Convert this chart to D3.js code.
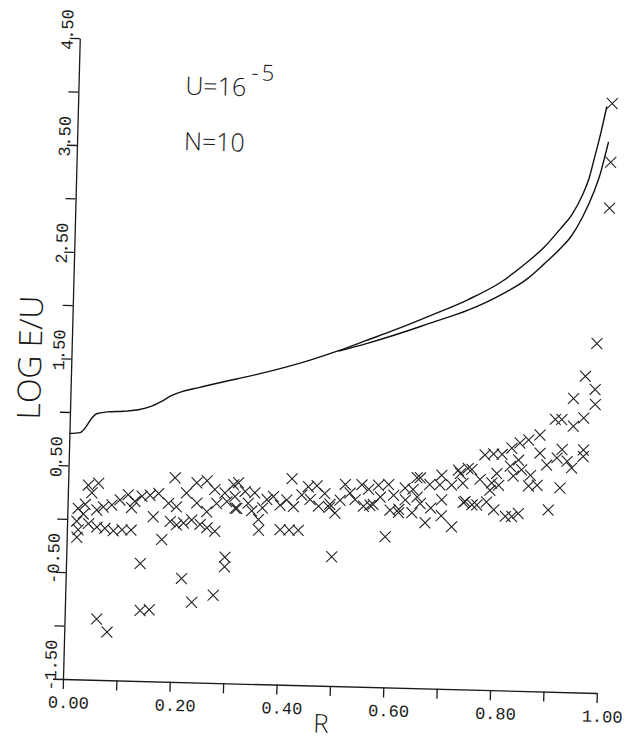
<!DOCTYPE html>
<html>
<head>
<meta charset="utf-8">
<script src="https://cdn.jsdelivr.net/npm/d3@7"></script>
<style>
  body { margin: 0; background: #fff; }
  .axis path, .axis line { stroke: #1a1a1a; stroke-width: 1.3; }
  .tick-label { font-family: "Liberation Mono", monospace; font-size: 17px; fill: #1a1a1a; }
  .title { font-family: "Open Sans", "Liberation Sans", sans-serif; font-weight: 300; fill: #1a1a1a; }
</style>
</head>
<body>
<script>
// Values.
let curveR =   [0, 0.02, 0.03, 0.04, 0.05, 0.07, 0.10, 0.13, 0.15, 0.17, 0.19, 0.21, 0.24, 0.27, 0.31, 0.35, 0.40, 0.45, 0.50, 0.55, 0.61, 0.67, 0.74, 0.80, 0.85, 0.88, 0.91, 0.93, 0.95, 0.96, 0.97, 0.98, 0.99];
let upperLog = [0.80, 0.81, 0.86, 0.94, 0.99, 1.01, 1.02, 1.04, 1.07, 1.12, 1.18, 1.22, 1.26, 1.30, 1.35, 1.40, 1.47, 1.55, 1.64, 1.74, 1.86, 1.99, 2.15, 2.32, 2.52, 2.66, 2.84, 2.97, 3.17, 3.31, 3.52, 3.74, 3.99];

let lowerR =   [0.50, 0.55, 0.61, 0.67, 0.74, 0.80, 0.85, 0.88, 0.91, 0.93, 0.95, 0.97, 0.98, 0.99, 0.995];
let lowerLog = [1.635, 1.71, 1.81, 1.92, 2.05, 2.20, 2.36, 2.50, 2.65, 2.77, 2.95, 3.19, 3.34, 3.55, 3.66];

let crossR = [
    0.038, 0.057, 0.045, 0.020, 0.055, 0.067, 0.083, 0.098, 0.113, 0.126, 0.139, 0.154, 0.170, 0.120, 0.161, 0.189, 0.200, 0.204, 0.222, 0.241,
    0.260, 0.275, 0.294, 0.310, 0.242, 0.261, 0.279, 0.298, 0.314, 0.030, 0.040, 0.033,
    0.018, 0.021, 0.019, 0.056, 0.071, 0.087, 0.103, 0.120, 0.193, 0.205, 0.218, 0.233, 0.249, 0.262, 0.277,
    0.178, 0.139, 0.297, 0.297, 0.217, 0.277, 0.237, 0.141, 0.158, 0.060, 0.080,
    0.319, 0.419, 0.313, 0.332, 0.350, 0.338, 0.317, 0.373, 0.385, 0.398, 0.410, 0.423, 0.438, 0.450, 0.454, 0.466, 0.481, 0.491, 0.501, 0.510,
    0.519, 0.528, 0.538, 0.550, 0.563, 0.554, 0.572, 0.581, 0.600, 0.604, 0.620, 0.631, 0.632, 0.645, 0.654, 0.653, 0.358, 0.359, 0.399, 0.416,
    0.433, 0.596, 0.497, 0.345, 0.365, 0.470, 0.585, 0.610, 0.490, 0.566, 0.620, 0.680, 0.700, 0.670,
    0.963, 0.982, 0.942, 0.983, 0.909, 0.921, 0.962, 0.943, 0.881, 0.860, 0.844, 0.779, 0.795, 0.811, 0.829, 0.882, 0.923, 0.963, 0.963, 0.914,
    0.895, 0.933, 0.942, 0.842, 0.848, 0.865, 0.878, 0.862, 0.827, 0.833, 0.802, 0.793, 0.806, 0.771, 0.755, 0.734, 0.739, 0.744, 0.757, 0.784,
    0.790, 0.798, 0.820, 0.832, 0.844, 0.900, 0.921, 0.720, 0.659, 0.677, 0.699, 0.696, 0.660, 0.700, 0.646, 0.718, 0.730, 0.748, 0.741, 0.766,
    0.983, 1.00, 1.00, 1.00
];
let crossLog = [
    0.32, 0.34, 0.25, 0.10, 0.09, 0.12, 0.14, 0.19, 0.24, 0.18, 0.23, 0.24, 0.26, 0.12, 0.04, 0.17, 0.41, 0.14, 0.27, 0.37,
    0.39, 0.31, 0.28, 0.36, 0.18, 0.10, 0.18, 0.20, 0.14, 0.05, -0.04, 0.14,
    -0.02, -0.10, -0.17, -0.07, -0.08, -0.10, -0.09, -0.09, 0.00, -0.03, -0.01, 0.02, -0.02, -0.05, -0.08,
    -0.17, -0.40, -0.32, -0.41, -0.53, -0.68, -0.75, -0.84, -0.83, -0.93, -1.05,
    0.38, 0.43, 0.25, 0.30, 0.29, 0.19, 0.14, 0.23, 0.26, 0.18, 0.23, 0.17, 0.28, 0.36, 0.24, 0.37, 0.30, 0.20, 0.12, 0.24,
    0.39, 0.31, 0.25, 0.39, 0.35, 0.19, 0.21, 0.39, 0.40, 0.16, 0.17, 0.37, 0.26, 0.14, 0.29, 0.47, 0.04, -0.06, -0.05, -0.05,
    -0.05, -0.09, -0.29, 0.12, 0.15, 0.18, 0.28, 0.30, 0.17, 0.20, 0.14, 0.19, 0.12, 0.05,
    1.46, 1.34, 1.25, 1.20, 1.05, 1.05, 1.07, 0.99, 0.90, 0.85, 0.82, 0.70, 0.71, 0.71, 0.77, 0.73, 0.77, 0.77, 0.71, 0.69,
    0.62, 0.66, 0.60, 0.66, 0.57, 0.52, 0.43, 0.42, 0.60, 0.51, 0.53, 0.44, 0.42, 0.47, 0.56, 0.52, 0.43, 0.26, 0.23, 0.26,
    0.37, 0.19, 0.13, 0.13, 0.16, 0.20, 0.41, 0.02, 0.47, 0.41, 0.50, 0.41, 0.23, 0.27, 0.36, 0.41, 0.55, 0.57, 0.25, 0.23,
    1.77, 4.02, 3.47, 3.04
];

let xTickValues = [0, 0.1, 0.2, 0.3, 0.4, 0.5, 0.6, 0.7, 0.8, 0.9, 1.0];
let xTickLabels = ["0.00", "0.20", "0.40", "0.60", "0.80", "1.00"];
let yTickValues = [-1.5, -1.0, -0.5, 0, 0.5, 1.0, 1.5, 2.0, 2.5, 3.0, 3.5, 4.0, 4.5];
let yTickLabels = ["-1.50", "-0.50", "0.50", "1.50", "2.50", "3.50", "4.50"];

let width = 628;
let height = 743;
let origin = {x: 63, y: 679};
let plotWidth = 534;
let plotHeight = 641;
// The scan is turned a little clockwise.
let tilt = 1.5;

let svg = d3.select("body").append("svg")
    .attr("width", width)
    .attr("height", height);

svg.append("rect")
    .attr("width", width)
    .attr("height", height)
    .attr("fill", "#fff");

let view = svg.append("g")
    .attr("transform", `translate(${origin.x},${origin.y}) rotate(${tilt})`);

let xScale = d3.scaleLinear().domain([0, 1]).range([0, plotWidth]);
let yScale = d3.scaleLinear().domain([-1.5, 4.5]).range([0, -plotHeight]);

view.append("g")
    .classed("axis", true)
    .call(d3.axisBottom(xScale).tickValues(xTickValues).tickSize(10).tickSizeOuter(0).tickFormat(""));

view.append("g")
    .classed("axis", true)
    .call(d3.axisLeft(yScale).tickValues(yTickValues).tickSize(10).tickSizeOuter(0).tickFormat(""));

view.selectAll("text.x-label")
    .data(xTickLabels)
    .join("text")
    .classed("tick-label x-label", true)
    .attr("x", d => xScale(+d) + 6)
    .attr("y", 29)
    .attr("text-anchor", "middle")
    .text(d => d);

view.selectAll("text.y-label")
    .data(yTickLabels)
    .join("text")
    .classed("tick-label y-label", true)
    .attr("transform", d => `translate(-7,${yScale(+d) + 12}) rotate(-90)`)
    .attr("text-anchor", "start")
    .text(d => d);

view.append("text")
    .classed("title", true)
    .attr("x", xScale(0.485))
    .attr("y", 47)
    .attr("text-anchor", "middle")
    .attr("font-size", 26)
    .text("R");

view.append("text")
    .classed("title", true)
    .attr("transform", `translate(-30,${yScale(1.5)}) rotate(-90)`)
    .attr("text-anchor", "middle")
    .attr("font-size", 32)
    .text("LOG E/U");

let note = view.append("text")
    .classed("title", true)
    .attr("x", xScale(0.2))
    .attr("y", yScale(4.0))
    .attr("font-size", 25)
    .text("U=16");
note.append("tspan")
    .attr("font-size", 22)
    .attr("letter-spacing", 3)
    .attr("dx", 5)
    .attr("dy", -16)
    .text("-5");

view.append("text")
    .classed("title", true)
    .attr("x", xScale(0.2))
    .attr("y", yScale(3.48))
    .attr("font-size", 25)
    .text("N=10");

let line = d3.line()
    .x(d => xScale(d[0]))
    .y(d => yScale(d[1]))
    .curve(d3.curveMonotoneX);

view.append("path")
    .datum(d3.zip(curveR, upperLog))
    .attr("d", line)
    .attr("fill", "none")
    .attr("stroke", "#111")
    .attr("stroke-width", 1.4);

view.append("path")
    .datum(d3.zip(lowerR, lowerLog))
    .attr("d", line)
    .attr("fill", "none")
    .attr("stroke", "#111")
    .attr("stroke-width", 1.4);

view.selectAll("path.cross")
    .data(d3.zip(crossR, crossLog))
    .join("path")
    .classed("cross", true)
    .attr("transform", d => `translate(${xScale(d[0])},${yScale(d[1])})`)
    .attr("d", d3.symbol(d3.symbolX, 80))
    .attr("fill", "none")
    .attr("stroke", "#222")
    .attr("stroke-width", 1.1);
</script>
</body>
</html>
